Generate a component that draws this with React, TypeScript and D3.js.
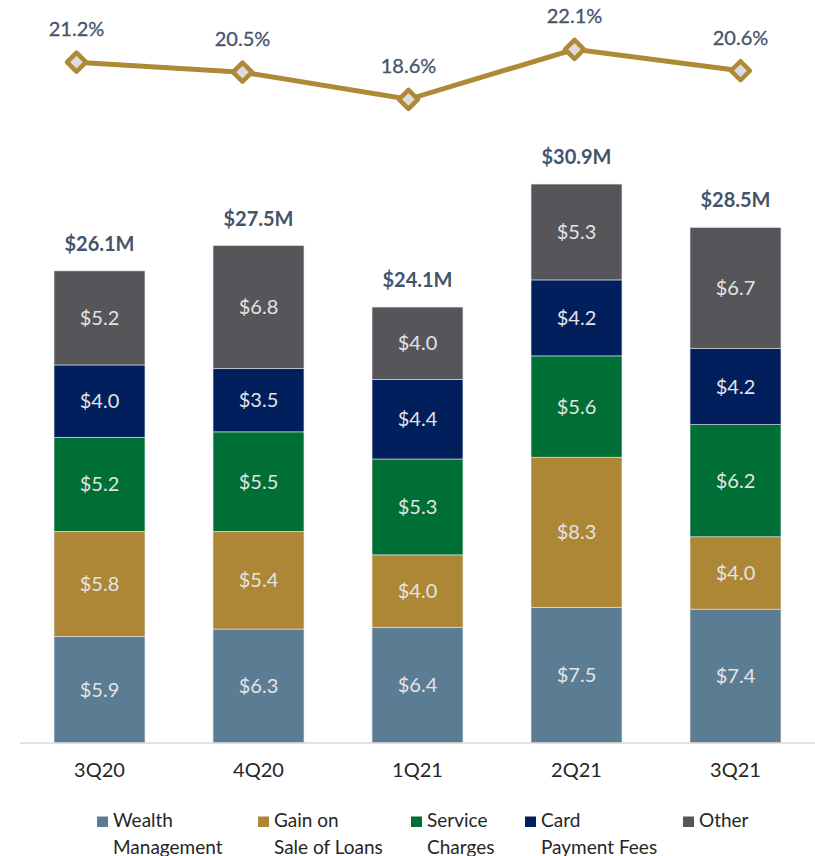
import React from "react";
import * as d3 from "d3";

const quarters = ["3Q20", "4Q20", "1Q21", "2Q21", "3Q21"];
const wealth = [5.9, 6.3, 6.4, 7.5, 7.4];
const gain = [5.8, 5.4, 4.0, 8.3, 4.0];
const service = [5.2, 5.5, 5.3, 5.6, 6.2];
const card = [4.0, 3.5, 4.4, 4.2, 4.2];
const other = [5.2, 6.8, 4.0, 5.3, 6.7];
const totalLabels = ["$26.1M", "$27.5M", "$24.1M", "$30.9M", "$28.5M"];
const pct = [21.2, 20.5, 18.6, 22.1, 20.6];

const seriesKeys = ["wealth", "gain", "service", "card", "other"];
const seriesLines = [
  ["Wealth", "Management"],
  ["Gain on", "Sale of Loans"],
  ["Service", "Charges"],
  ["Card", "Payment Fees"],
  ["Other", ""],
];
const colors = ["#5b7d93", "#ad8736", "#006f35", "#001f5c", "#56565a"];

const W = 815;
const H = 856;
const FONT = "Lato, 'Open Sans', sans-serif";

export default function App() {
  const rows = quarters.map((q, i) => ({
    q,
    wealth: wealth[i],
    gain: gain[i],
    service: service[i],
    card: card[i],
    other: other[i],
  }));
  const stack = d3.stack<any>().keys(seriesKeys)(rows);

  const x = d3
    .scaleBand<string>()
    .domain(quarters)
    .range([20, 815])
    .paddingInner(0.428)
    .paddingOuter(0.214);
  const y = d3.scaleLinear().domain([0, 35]).range([743, 109.9]);

  const xl = d3.scalePoint<string>().domain(quarters).range([76.5, 740.5]);
  const yl = d3.scaleLinear().domain([18.6, 22.1]).range([99.3, 49.3]);
  const line = d3
    .line<number>()
    .x((_, i) => xl(quarters[i])!)
    .y((d) => yl(d));

  const legendX = [97, 258, 411, 525, 683];

  return (
    <svg
      width={W}
      height={H}
      style={{ position: "absolute", left: 0, top: 0, background: "#fff" }}
      fontFamily={FONT}
    >
      {stack.map((s, si) => (
        <g key={s.key}>
          {s.map((d, i) => {
            const x0 = x(quarters[i])!;
            const y0 = y(d[1]);
            const h = y(d[0]) - y(d[1]);
            const v = d[1] - d[0];
            return (
              <g key={i}>
                <rect
                  x={x0}
                  y={y0}
                  width={x.bandwidth()}
                  height={h}
                  fill={colors[si]}
                  stroke="#e3e6ea"
                  strokeWidth={0.6}
                />
                <text
                  x={x0 + x.bandwidth() / 2}
                  y={y0 + h / 2}
                  dy="0.35em"
                  textAnchor="middle"
                  fill="#e4e4e4"
                  fontSize={20}
                >
                  {"$" + v.toFixed(1)}
                </text>
              </g>
            );
          })}
        </g>
      ))}
      {quarters.map((q, i) => (
        <text
          key={q}
          x={x(q)! + x.bandwidth() / 2}
          y={y(stack[stack.length - 1][i][1]) - 20}
          textAnchor="middle"
          fill="#44546a"
          fontSize={20}
          fontWeight="bold"
        >
          {totalLabels[i]}
        </text>
      ))}
      <line x1={20} x2={815} y1={743} y2={743} stroke="#d9d9d9" strokeWidth={1.5} />
      {quarters.map((q) => (
        <text
          key={q}
          x={x(q)! + x.bandwidth() / 2}
          y={777}
          textAnchor="middle"
          fill="#262626"
          fontSize={20}
        >
          {q}
        </text>
      ))}
      <path d={line(pct)!} fill="none" stroke="#ae8936" strokeWidth={5} />
      {pct.map((p, i) => {
        const cx = xl(quarters[i])!;
        const cy = yl(p);
        const r = 9.5;
        return (
          <g key={i}>
            <path
              d={`M${cx},${cy - r}L${cx + r},${cy}L${cx},${cy + r}L${cx - r},${cy}Z`}
              fill="#dcdcdc"
              stroke="#ae8936"
              strokeWidth={4.5}
              strokeLinejoin="round"
            />
            <text
              x={cx}
              y={cy - 26}
              textAnchor="middle"
              fill="#44546a"
              fontSize={20}
              stroke="#44546a"
              strokeWidth={0.3}
            >
              {p.toFixed(1) + "%"}
            </text>
          </g>
        );
      })}
      {seriesLines.map((lines, i) => (
        <g key={i}>
          <rect x={legendX[i]} y={816.5} width={11} height={10.5} fill={colors[i]} />
          <text x={legendX[i] + 16} y={827} fill="#262626" fontSize={19}>
            {lines[0]}
          </text>
          {lines[1] && (
            <text x={legendX[i] + 16} y={853.5} fill="#262626" fontSize={19}>
              {lines[1]}
            </text>
          )}
        </g>
      ))}
    </svg>
  );
}
